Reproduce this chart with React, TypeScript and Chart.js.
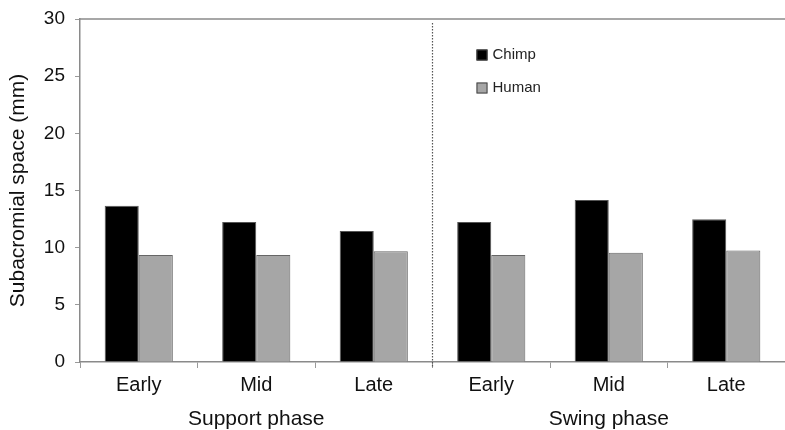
import React, { useEffect, useRef } from "react";
import { Chart, registerables } from "chart.js";

Chart.register(...registerables);

const categories = ["Early", "Mid", "Late", "Early", "Mid", "Late"];
const phases = ["Support phase", "Swing phase"];
const chimp = [13.67, 12.25, 11.46, 12.25, 14.17, 12.48];
const human = [9.36, 9.36, 9.68, 9.36, 9.56, 9.76];
const yMin = 0;
const yMax = 30;
const yStep = 5;

const FONT = "'Liberation Sans', Arial, sans-serif";

const decorPlugin = {
  id: "decor",
  afterDraw(chart: any) {
    const ctx = chart.ctx;
    const area = chart.chartArea;
    const x = chart.scales.x;
    ctx.save();
    // top border
    ctx.strokeStyle = "#8a8a8a";
    ctx.lineWidth = 1.5;
    ctx.beginPath();
    ctx.moveTo(area.left, area.top);
    ctx.lineTo(area.right, area.top);
    ctx.stroke();
    // phase divider
    const half = categories.length / 2;
    const divX = (x.getPixelForValue(half - 1) + x.getPixelForValue(half)) / 2;
    ctx.strokeStyle = "#555";
    ctx.lineWidth = 1.2;
    ctx.setLineDash([1.5, 1.5]);
    ctx.beginPath();
    ctx.moveTo(divX, area.top + 4);
    ctx.lineTo(divX, area.bottom + 6);
    ctx.stroke();
    ctx.setLineDash([]);
    // legend
    const lx = divX + 44;
    let ly = area.top + 36;
    ctx.font = `15px ${FONT}`;
    ctx.textBaseline = "middle";
    ctx.textAlign = "left";
    chart.data.datasets.forEach((ds: any) => {
      ctx.fillStyle = ds.backgroundColor;
      ctx.fillRect(lx, ly - 5.5, 11, 11);
      ctx.strokeStyle = "#444";
      ctx.lineWidth = 1;
      ctx.strokeRect(lx + 0.5, ly - 5, 10, 10);
      ctx.fillStyle = "#222";
      ctx.fillText(ds.label, lx + 16, ly);
      ly += 33;
    });
    ctx.restore();
  },
};

export default function App() {
  const ref = useRef<HTMLCanvasElement>(null);
  useEffect(() => {
    if (!ref.current) return;
    const chart = new Chart(ref.current, {
      type: "bar",
      data: {
        labels: categories,
        datasets: [
          {
            label: "Chimp",
            data: chimp,
            backgroundColor: "#000000",
            borderColor: "#555555",
            borderWidth: 1,
            categoryPercentage: 0.58,
            barPercentage: 1.0,
          },
          {
            label: "Human",
            data: human,
            backgroundColor: "#a6a6a6",
            borderColor: "#666666",
            borderWidth: 1,
            categoryPercentage: 0.58,
            barPercentage: 1.0,
          },
        ],
      },
      options: {
        responsive: false,
        animation: false,
        devicePixelRatio: 1,
        layout: { padding: { top: 19, right: 0, bottom: 0, left: 0 } },
        plugins: { legend: { display: false }, tooltip: { enabled: false } },
        scales: {
          x: {
            type: "category",
            position: "bottom",
            offset: true,
            grid: {
              offset: true,
              drawOnChartArea: false,
              drawTicks: true,
              tickLength: 6,
              color: "#9a9a9a",
              lineWidth: 1,
            },
            border: { color: "#8a8a8a", width: 1.5 },
            ticks: {
              color: "#111",
              font: { family: FONT, size: 20 },
              padding: 5,
              maxRotation: 0,
              autoSkip: false,
            },
            afterFit: (s: any) => {
              s.height = 42;
              s.paddingLeft = 0;
              s.paddingRight = 0;
            },
          },
          x2: {
            type: "category",
            position: "bottom",
            labels: phases,
            offset: true,
            grid: { display: false, drawTicks: false },
            border: { display: false },
            ticks: {
              color: "#111",
              font: { family: FONT, size: 21 },
              padding: 2.5,
              maxRotation: 0,
              autoSkip: false,
            },
            afterFit: (s: any) => {
              s.height = 26;
              s.paddingLeft = 0;
              s.paddingRight = 0;
            },
          },
          y: {
            min: yMin,
            max: yMax,
            ticks: {
              stepSize: yStep,
              color: "#111",
              font: { family: FONT, size: 19 },
              padding: 10,
            },
            grid: {
              drawOnChartArea: false,
              drawTicks: true,
              tickLength: 5,
              color: "#9a9a9a",
            },
            border: { color: "#8a8a8a", width: 1.5 },
            title: {
              display: true,
              text: "Subacromial space (mm)",
              color: "#111",
              font: { family: FONT, size: 21 },
              padding: { top: 6, bottom: 0 },
            },
            afterFit: (s: any) => {
              s.width = 80;
              s.paddingTop = 0;
              s.paddingBottom = 0;
            },
          },
        },
      },
      plugins: [decorPlugin],
    } as any);
    return () => chart.destroy();
  }, []);
  return (
    <div style={{ position: "fixed", left: 0, top: 0, width: 785, height: 430, background: "#fff" }}>
      <canvas ref={ref} width={785} height={430} style={{ display: "block" }} />
    </div>
  );
}
